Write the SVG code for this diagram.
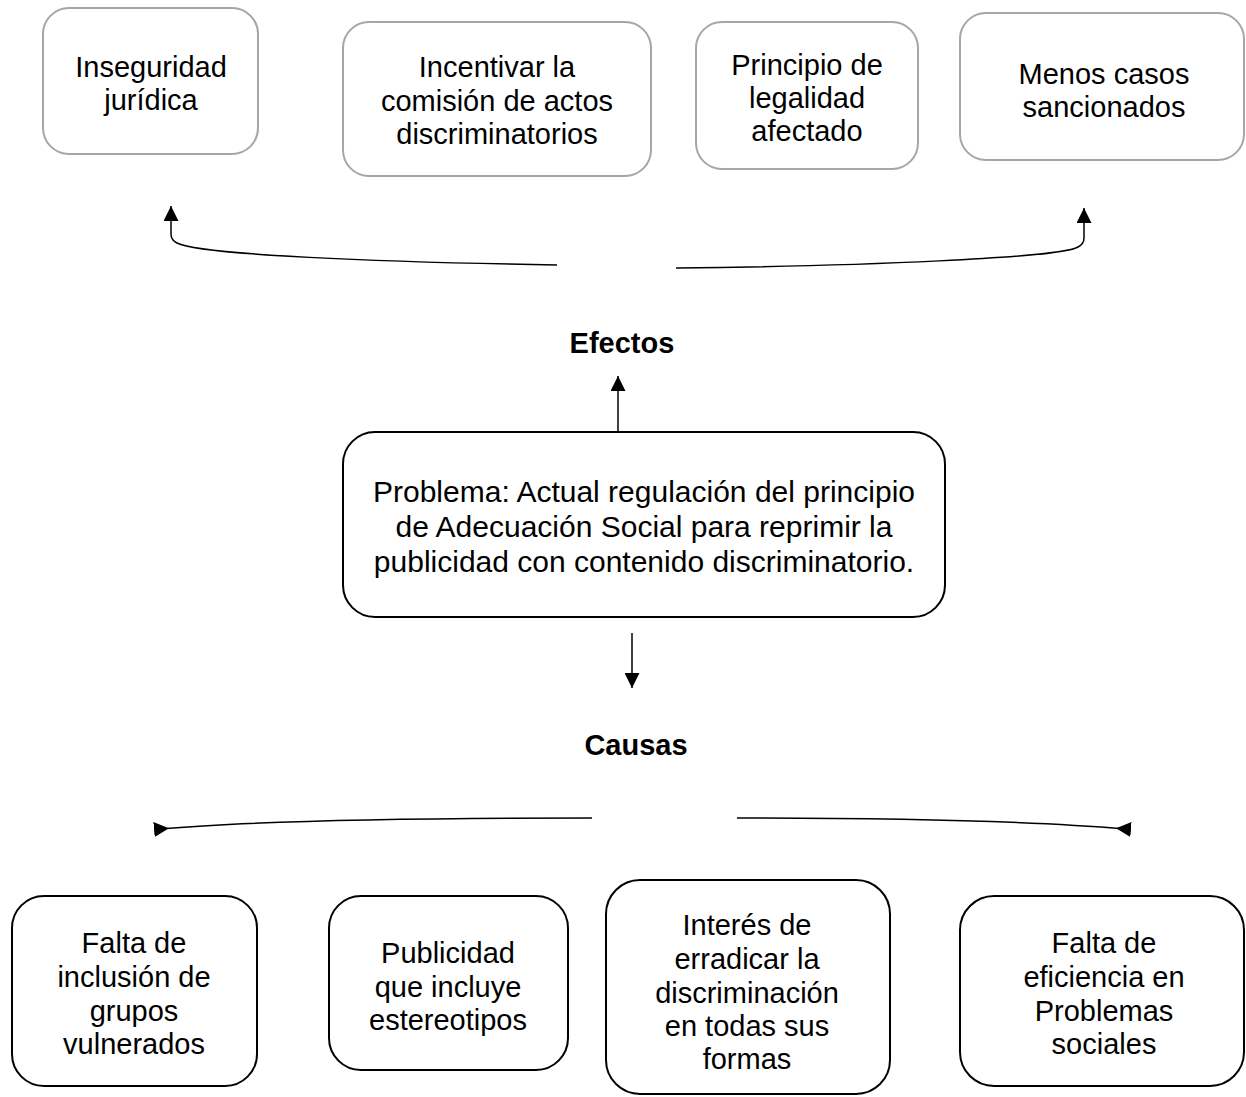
<svg xmlns="http://www.w3.org/2000/svg" width="1246" height="1097" viewBox="0 0 1246 1097">
<style>
  .eff { fill: #ffffff; stroke: #a6a6a6; stroke-width: 2; }
  .cau { fill: #ffffff; stroke: #000000; stroke-width: 2; }
  .t { font-family: "Liberation Sans", Arial, sans-serif; font-size: 29px; fill: #000000; text-anchor: middle; }
  .tp { font-family: "Liberation Sans", Arial, sans-serif; font-size: 30px; fill: #000000; text-anchor: middle; }
  .b { font-family: "Liberation Sans", Arial, sans-serif; font-size: 29px; font-weight: bold; fill: #000000; text-anchor: middle; }
  .c { fill: none; stroke: #000000; stroke-width: 1.5; }
</style>
<defs>
  <marker id="arr" viewBox="0 0 10 10" refX="10" refY="5" markerWidth="15" markerHeight="15" markerUnits="userSpaceOnUse" orient="auto">
    <path d="M0,0 L10,5 L0,10 z" fill="#000000"/>
  </marker>
  <marker id="rev" viewBox="0 0 10 10" refX="4" refY="5" markerWidth="15" markerHeight="19" markerUnits="userSpaceOnUse" orient="auto">
    <path d="M0,0 L10,5 L0,10 z" fill="#000000"/>
  </marker>
</defs>
<rect width="1246" height="1097" fill="#ffffff"/>

<g id="connectors">
  <path class="c" d="M557,265 C380,262 200,255 177,243 Q171,240 171,234 L171,206" marker-end="url(#arr)"/>
  <path class="c" d="M676,268 C860,266 1060,258 1078,247 Q1084,244 1084,238 L1084,208" marker-end="url(#arr)"/>
  <path class="c" d="M618,432 L618,376" marker-end="url(#arr)"/>
  <path class="c" d="M632,633 L632,688" marker-end="url(#arr)"/>
  <path class="c" d="M160,829 C260,820 420,818 592,818" marker-start="url(#rev)"/>
  <path class="c" d="M1125,829 C1020,820 880,818 737,818" marker-start="url(#rev)"/>
</g>

<g id="efectos-label"><text class="b" x="622" y="353">Efectos</text></g>
<g id="causas-label"><text class="b" x="636" y="755">Causas</text></g>

<g id="e1">
  <rect class="eff" x="43" y="8" width="215" height="146" rx="26"/>
  <text class="t" x="151" y="77">Inseguridad</text>
  <text class="t" x="151" y="110">jurídica</text>
</g>
<g id="e2">
  <rect class="eff" x="343" y="22" width="308" height="154" rx="26"/>
  <text class="t" x="497" y="77">Incentivar la</text>
  <text class="t" x="497" y="111">comisión de actos</text>
  <text class="t" x="497" y="144">discriminatorios</text>
</g>
<g id="e3">
  <rect class="eff" x="696" y="22" width="222" height="147" rx="26"/>
  <text class="t" x="807" y="75">Principio de</text>
  <text class="t" x="807" y="108">legalidad</text>
  <text class="t" x="807" y="141">afectado</text>
</g>
<g id="e4">
  <rect class="eff" x="960" y="13" width="284" height="147" rx="26"/>
  <text class="t" x="1104" y="84">Menos casos</text>
  <text class="t" x="1104" y="117">sancionados</text>
</g>

<g id="problema">
  <rect class="cau" x="343" y="432" width="602" height="185" rx="32"/>
  <text class="tp" x="644" y="502">Problema: Actual regulación del principio</text>
  <text class="tp" x="644" y="537">de Adecuación Social para reprimir la</text>
  <text class="tp" x="644" y="572">publicidad con contenido discriminatorio.</text>
</g>

<g id="c1">
  <rect class="cau" x="12" y="896" width="245" height="190" rx="32"/>
  <text class="t" x="134" y="953">Falta de</text>
  <text class="t" x="134" y="987">inclusión de</text>
  <text class="t" x="134" y="1021">grupos</text>
  <text class="t" x="134" y="1054">vulnerados</text>
</g>
<g id="c2">
  <rect class="cau" x="329" y="896" width="239" height="174" rx="32"/>
  <text class="t" x="448" y="963">Publicidad</text>
  <text class="t" x="448" y="997">que incluye</text>
  <text class="t" x="448" y="1030">estereotipos</text>
</g>
<g id="c3">
  <rect class="cau" x="606" y="880" width="284" height="214" rx="34"/>
  <text class="t" x="747" y="935">Interés de</text>
  <text class="t" x="747" y="969">erradicar la</text>
  <text class="t" x="747" y="1003">discriminación</text>
  <text class="t" x="747" y="1036">en todas sus</text>
  <text class="t" x="747" y="1069">formas</text>
</g>
<g id="c4">
  <rect class="cau" x="960" y="896" width="284" height="190" rx="34"/>
  <text class="t" x="1104" y="953">Falta de</text>
  <text class="t" x="1104" y="987">eficiencia en</text>
  <text class="t" x="1104" y="1021">Problemas</text>
  <text class="t" x="1104" y="1054">sociales</text>
</g>
</svg>
